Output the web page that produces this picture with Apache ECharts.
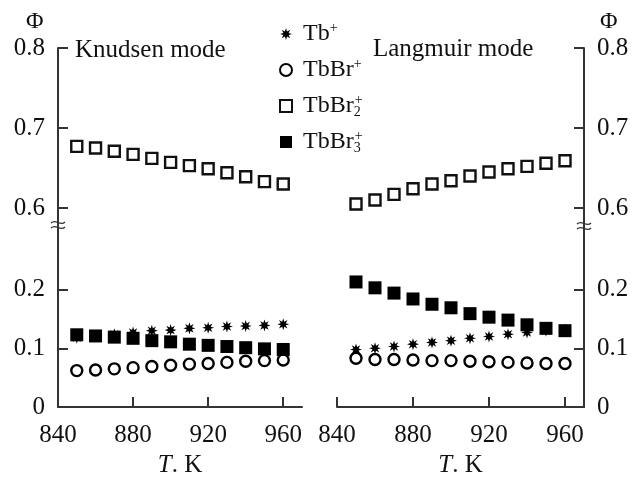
<!DOCTYPE html>
<html>
<head>
<meta charset="utf-8">
<script src="https://cdn.jsdelivr.net/npm/echarts@6/dist/echarts.min.js"></script>
<style>
  html, body { margin: 0; padding: 0; background: #fff; }
  #main { width: 633px; height: 479px; }
</style>
</head>
<body>
<div id="main"></div>
<script>
// temperatures, K
var temps = [850, 860, 870, 880, 890, 900, 910, 920, 930, 940, 950, 960];

// Knudsen mode
var knudsenTb    = [0.118, 0.121, 0.124, 0.127, 0.130, 0.131, 0.134, 0.135, 0.137, 0.138, 0.139, 0.141];
var knudsenTbBr  = [0.062, 0.063, 0.065, 0.067, 0.069, 0.071, 0.073, 0.074, 0.076, 0.078, 0.079, 0.080];
var knudsenTbBr2 = [0.677, 0.675, 0.671, 0.667, 0.662, 0.657, 0.653, 0.649, 0.644, 0.639, 0.633, 0.630];
var knudsenTbBr3 = [0.123, 0.121, 0.119, 0.117, 0.113, 0.111, 0.107, 0.105, 0.103, 0.101, 0.099, 0.098];

// Langmuir mode
var langmuirTb    = [0.098, 0.100, 0.103, 0.107, 0.110, 0.113, 0.117, 0.120, 0.124, 0.127, 0.130, 0.132];
var langmuirTbBr  = [0.083, 0.081, 0.081, 0.080, 0.079, 0.079, 0.078, 0.077, 0.076, 0.075, 0.074, 0.074];
var langmuirTbBr2 = [0.605, 0.610, 0.617, 0.624, 0.630, 0.634, 0.640, 0.645, 0.649, 0.652, 0.656, 0.659];
var langmuirTbBr3 = [0.213, 0.203, 0.194, 0.184, 0.175, 0.169, 0.159, 0.153, 0.148, 0.140, 0.134, 0.130];

var xTicks = [840, 880, 920, 960];
var lowTicks = [0, 0.1, 0.2];
var highTicks = [0.6, 0.7, 0.8];
var ionNames = ['Tb+', 'TbBr+', 'TbBr2+', 'TbBr3+'];

var FONT = '"Liberation Serif", "Times New Roman", serif';
var AX = '#333';

// asterisk symbol (8 spikes)
var star = 'path://';
for (var k = 0; k < 16; k++) {
    var a = k * Math.PI / 8;
    var r = k % 2 === 0 ? 10 : 4.6;
    star += (k === 0 ? 'M' : 'L') + (r * Math.cos(a)).toFixed(2) + ',' + (r * Math.sin(a)).toFixed(2);
}
star += 'Z';

var styles = {
    'Tb+':    { symbol: star, symbolSize: 12, itemStyle: { color: '#000', opacity: 1 } },
    'TbBr+':  { symbol: 'circle', symbolSize: 11, itemStyle: { color: '#fff', borderColor: '#000', borderWidth: 2.4, opacity: 1 } },
    'TbBr2+': { symbol: 'rect', symbolSize: 11, itemStyle: { color: '#fff', borderColor: '#111', borderWidth: 2.4, opacity: 1 } },
    'TbBr3+': { symbol: 'rect', symbolSize: 13, itemStyle: { color: '#000', opacity: 1 } }
};

function pts(vals) {
    return temps.map(function (t, i) { return [t, vals[i]]; });
}

function mk(name, idx, vals) {
    var s = styles[name];
    return {
        name: name,
        type: 'scatter',
        xAxisIndex: idx,
        yAxisIndex: idx,
        symbol: s.symbol,
        symbolSize: s.symbolSize,
        itemStyle: s.itemStyle,
        emphasis: { disabled: true },
        data: pts(vals)
    };
}

function xAx(idx, show) {
    return {
        type: 'value', gridIndex: idx, min: 840, max: 970,
        show: show,
        name: '{i|T}. K',
        nameLocation: 'middle',
        nameGap: 46,
        nameTextStyle: { fontFamily: FONT, fontSize: 25, color: '#111', rich: { i: { fontFamily: FONT, fontSize: 25, fontStyle: 'italic', color: '#111' } } },
        axisLine: { show: true, lineStyle: { color: AX, width: 2 } },
        axisTick: { show: true, inside: true, length: 10, lineStyle: { color: AX, width: 2 }, customValues: xTicks },
        axisLabel: { margin: 16, fontFamily: FONT, fontSize: 25, color: '#111', customValues: xTicks },
        splitLine: { show: false }
    };
}

function yAx(idx, pos, lo, hi, ticks) {
    return {
        type: 'value', gridIndex: idx, min: lo, max: hi, position: pos,
        axisLine: { show: true, onZero: false, lineStyle: { color: AX, width: 2 } },
        axisTick: { show: true, inside: true, length: 10, lineStyle: { color: AX, width: 2 }, customValues: ticks },
        axisLabel: { margin: 13, fontFamily: FONT, fontSize: 25, color: '#111', customValues: ticks,
            formatter: function (v) { return v === 0 ? '0' : v.toFixed(1); } },
        splitLine: { show: false }
    };
}

function breakMark(x, y) {
    return {
        type: 'group', x: x, y: y, z: 100,
        children: [
            { type: 'rect', shape: { x: -4, y: -3, width: 8, height: 7 }, style: { fill: '#fff' } },
            { type: 'bezierCurve', shape: { x1: -7, y1: -1, x2: 7, y2: -2, cpx1: -2, cpy1: -6, cpx2: 2, cpy2: 3 },
              style: { stroke: AX, lineWidth: 1.3, fill: null } },
            { type: 'bezierCurve', shape: { x1: -7, y1: 4, x2: 7, y2: 3, cpx1: -2, cpy1: -1, cpx2: 2, cpy2: 8 },
              style: { stroke: AX, lineWidth: 1.3, fill: null } }
        ]
    };
}

var richText = {
    m: { fontFamily: FONT, fontSize: 24, color: '#111', lineHeight: 26 },
    sup: { fontFamily: FONT, fontSize: 14, color: '#111', verticalAlign: 'top', lineHeight: 14 },
    sub: { fontFamily: FONT, fontSize: 14, color: '#111', verticalAlign: 'bottom', lineHeight: 14, width: 1 }
};

var legendLabel = {
    'Tb+': '{m|Tb}{sup|+}',
    'TbBr+': '{m|TbBr}{sup|+}',
    'TbBr2+': '{m|TbBr}{sub|2}{sup|+}',
    'TbBr3+': '{m|TbBr}{sub|3}{sup|+}'
};

var chart = echarts.init(document.getElementById('main'));

var option = {
    backgroundColor: '#fff',
    animation: false,
    grid: [
        { left: 58, top: 48, width: 244, height: 176 },   // Knudsen upper
        { left: 58, top: 225, width: 244, height: 185 },  // Knudsen lower
        { left: 337, top: 48, width: 247, height: 176 },  // Langmuir upper
        { left: 337, top: 225, width: 247, height: 185 }  // Langmuir lower
    ],
    xAxis: [xAx(0, false), xAx(1, true), xAx(2, false), xAx(3, true)],
    yAxis: [
        yAx(0, 'left', 0.58, 0.8, highTicks),
        yAx(1, 'left', 0, 0.31, lowTicks),
        yAx(2, 'right', 0.58, 0.8, highTicks),
        yAx(3, 'right', 0, 0.31, lowTicks)
    ],
    legend: {
        data: ionNames,
        orient: 'vertical',
        left: 274,
        top: 16,
        itemWidth: 12,
        itemHeight: 12,
        itemGap: 10,
        selectedMode: false,
        formatter: function (n) { return legendLabel[n]; },
        textStyle: { fontFamily: FONT, fontSize: 24, color: '#111', lineHeight: 26, padding: [0, 0, 0, 6], rich: richText }
    },
    graphic: [
        { type: 'text', left: 26, top: 10, style: { text: 'Φ', font: '24px ' + FONT, fill: '#111' } },
        { type: 'text', left: 600, top: 10, style: { text: 'Φ', font: '24px ' + FONT, fill: '#111' } },
        { type: 'text', left: 75, top: 38, style: { text: 'Knudsen mode', font: '25px ' + FONT, fill: '#111' } },
        { type: 'text', left: 373, top: 37, style: { text: 'Langmuir mode', font: '25px ' + FONT, fill: '#111' } },
        breakMark(58, 224),
        breakMark(584, 225)
    ],
    series: [
        mk('Tb+', 1, knudsenTb),
        mk('TbBr+', 1, knudsenTbBr),
        mk('TbBr3+', 1, knudsenTbBr3),
        mk('TbBr2+', 0, knudsenTbBr2),
        mk('Tb+', 3, langmuirTb),
        mk('TbBr+', 3, langmuirTbBr),
        mk('TbBr3+', 3, langmuirTbBr3),
        mk('TbBr2+', 2, langmuirTbBr2)
    ]
};

chart.setOption(option);
</script>
</body>
</html>
